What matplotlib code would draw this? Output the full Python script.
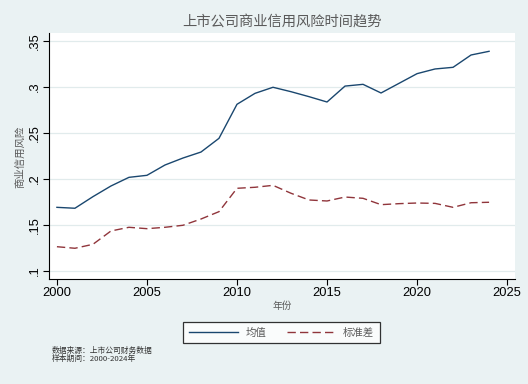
import numpy as np
import matplotlib.pyplot as plt

plt.rcParams['font.family'] = ['Liberation Sans', 'Noto Sans CJK SC', 'DejaVu Sans']

# 数据
years = list(range(2000, 2025))
mean_vals = [0.1692, 0.1682, 0.1808, 0.1924, 0.2018, 0.2040, 0.2152, 0.2228, 0.2293, 0.2442,
             0.2812, 0.2931, 0.2997, 0.2949, 0.2895, 0.2837, 0.3010, 0.3029, 0.2935, 0.3040,
             0.3145, 0.3196, 0.3214, 0.3348, 0.3388]
std_vals = [0.1264, 0.1247, 0.1290, 0.1435, 0.1475, 0.1460, 0.1475, 0.1497, 0.1565, 0.1645,
            0.1899, 0.1910, 0.1931, 0.1845, 0.1772, 0.1761, 0.1804, 0.1790, 0.1721, 0.1732,
            0.1739, 0.1735, 0.1692, 0.1742, 0.1747]
yticks = [0.1, 0.15, 0.2, 0.25, 0.3, 0.35]
ytick_labels = ['.1', '.15', '.2', '.25', '.3', '.35']
xticks = [2000, 2005, 2010, 2015, 2020, 2025]

bg = '#EAF2F3'
cjk = ['Noto Sans CJK SC', 'DejaVu Sans']

fig = plt.figure(figsize=(5.28, 3.84), dpi=100, facecolor=bg)
ax = fig.add_axes([49/528, 1-279/384, 466/528, 246/384])
ax.set_facecolor('white')

l1, = ax.plot(years, mean_vals, color='#1A476F', lw=1.0, label='均值')
l2, = ax.plot(years, std_vals, color='#90353B', lw=1.0, ls=(0, (6, 3)), label='标准差')

ax.set_xlim(1999.56, 2025.44)
ax.set_ylim(0.0913, 0.3587)
ax.set_xticks(xticks)
ax.set_yticks(yticks)
ax.set_yticklabels(ytick_labels, rotation=90, va='center')
ax.tick_params(labelsize=9.3, length=4, width=0.8, color='black', pad=2)
ax.grid(axis='y', color='#E1EBEC', lw=0.9)
ax.set_axisbelow(True)
for s in ['top', 'right']:
    ax.spines[s].set_visible(False)
for s in ['left', 'bottom']:
    ax.spines[s].set_color('black')
    ax.spines[s].set_linewidth(0.8)

fig.text(282/528, 1-22/384, '上市公司商业信用风险时间趋势', ha='center', va='center',
         fontsize=10.3, color='#5a5a5a', family=cjk)
fig.text(20/528, 1-157/384, '商业信用风险', ha='center', va='center', rotation=90,
         fontsize=7.5, color='#5a5a5a', family=cjk)
fig.text(282/528, 1-306/384, '年份', ha='center', va='center',
         fontsize=7, color='#5a5a5a', family=cjk)

leg = fig.legend(handles=[l1, l2], loc='center', bbox_to_anchor=(281.5/528, 1-332.5/384),
                 ncol=2, frameon=True, fancybox=False, handlelength=4.7,
                 columnspacing=2.0, handletextpad=0.7, borderpad=0.55,
                 prop={'family': cjk, 'size': 7.5})
leg.get_frame().set_edgecolor('black')
leg.get_frame().set_linewidth(0.9)
for t in leg.get_texts():
    t.set_color('#5a5a5a')

fig.text(52/528, 1-355/384, '数据来源：上市公司财务数据\n样本期间：2000-2024年', ha='left', va='center',
         fontsize=5.6, color='#333333', family=cjk, linespacing=1.0)

fig.savefig('out.png', dpi=100, facecolor=bg)
